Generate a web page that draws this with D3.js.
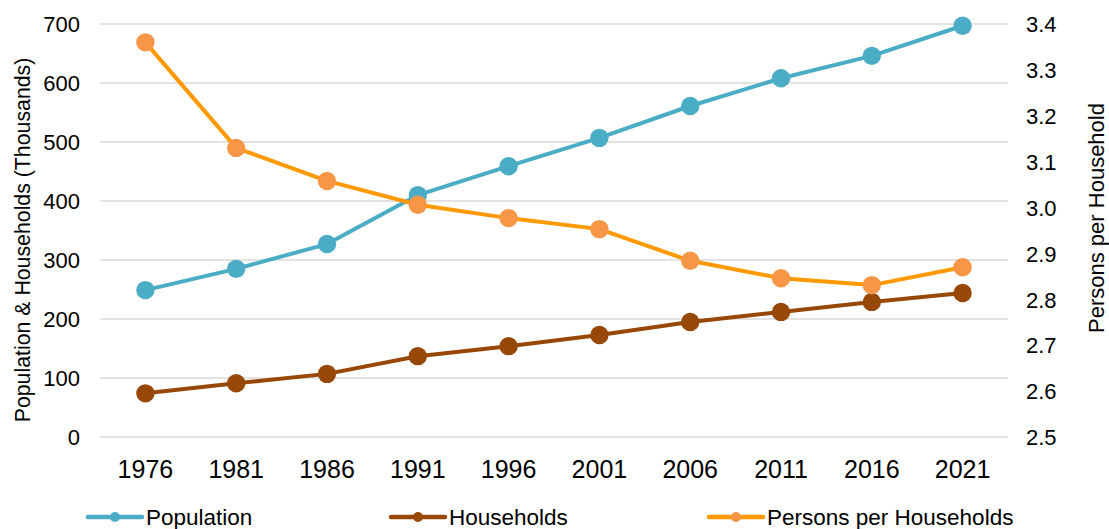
<!DOCTYPE html>
<html>
<head>
<meta charset="utf-8">
<script src="https://cdn.jsdelivr.net/npm/d3@7"></script>
<style>
  body { margin: 0; background: #fff; }
  text { font-family: "Liberation Sans", Arial, sans-serif; fill: #000; }
</style>
</head>
<body>
<div id="chart"></div>
<script>
const years = ["1976", "1981", "1986", "1991", "1996", "2001", "2006", "2011", "2016", "2021"];
const population = [249, 285, 327, 410, 459, 507, 561, 608, 646, 697];
const households = [74, 91, 107, 137, 154, 173, 195, 212, 229, 244];
const personsPerHousehold = [3.36, 3.13, 3.058, 3.006, 2.977, 2.953, 2.884, 2.846, 2.831, 2.87];
const leftTicks = [0, 100, 200, 300, 400, 500, 600, 700];
const rightTicks = [2.5, 2.6, 2.7, 2.8, 2.9, 3.0, 3.1, 3.2, 3.3, 3.4];

const W = 1109, H = 529;
const margin = { top: 24, right: 101, bottom: 92, left: 100 };
const width = W - margin.left - margin.right;
const height = H - margin.top - margin.bottom;

const svg = d3.select("#chart").append("svg")
  .attr("width", W)
  .attr("height", H);

const chart = svg.append("g")
  .attr("transform", `translate(${margin.left},${margin.top})`);

const x = d3.scaleBand().domain(years).range([0, width]);
const yL = d3.scaleLinear().domain([0, 700]).range([height, 0]);
const yR = d3.scaleLinear().domain([2.5, 3.4]).range([height, 0]);

// gridlines
chart.append("g")
  .selectAll("line")
  .data(leftTicks)
  .enter().append("line")
  .attr("x1", 0).attr("x2", width)
  .attr("y1", d => yL(d)).attr("y2", d => yL(d))
  .attr("stroke", "#d9d9d9")
  .attr("stroke-width", 1.3);

// left axis
const left = chart.append("g")
  .call(d3.axisLeft(yL).tickValues(leftTicks).tickSize(0).tickPadding(20));
left.select(".domain").remove();
left.selectAll("text").style("font-size", "22px").attr("dy", "0.35em");

// right axis
const right = chart.append("g")
  .attr("transform", `translate(${width},0)`)
  .call(d3.axisRight(yR).tickValues(rightTicks).tickSize(0).tickPadding(18).tickFormat(d3.format(".1f")));
right.select(".domain").remove();
right.selectAll("text").style("font-size", "22px").attr("dy", "0.35em");

// bottom axis
const bottom = chart.append("g")
  .attr("transform", `translate(0,${height})`)
  .call(d3.axisBottom(x).tickSize(0).tickPadding(23));
bottom.select(".domain").remove();
bottom.selectAll("text").style("font-size", "25px");

// axis titles
svg.append("text")
  .attr("transform", "rotate(-90)")
  .attr("x", -240)
  .attr("y", 30)
  .attr("text-anchor", "middle")
  .style("font-size", "21.3px")
  .text("Population & Households (Thousands)");

svg.append("text")
  .attr("transform", "rotate(-90)")
  .attr("x", -218)
  .attr("y", 1104)
  .attr("text-anchor", "middle")
  .style("font-size", "22px")
  .text("Persons per Household");

const series = [
  { name: "Population", values: population, y: yL, line: "#4bacc6", dot: "#4bacc6" },
  { name: "Households", values: households, y: yL, line: "#974706", dot: "#974706" },
  { name: "Persons per Households", values: personsPerHousehold, y: yR, line: "#ff9900", dot: "#f79646" }
];

series.forEach(s => {
  const line = d3.line()
    .x((d, i) => x(years[i]) + x.bandwidth() / 2)
    .y(d => s.y(d));

  chart.append("path")
    .datum(s.values)
    .attr("fill", "none")
    .attr("stroke", s.line)
    .attr("stroke-width", 4)
    .attr("stroke-linejoin", "round")
    .attr("d", line);

  chart.selectAll(null)
    .data(s.values)
    .enter().append("circle")
    .attr("cx", (d, i) => x(years[i]) + x.bandwidth() / 2)
    .attr("cy", d => s.y(d))
    .attr("r", 9.2)
    .attr("fill", s.dot);
});

// legend
const legendX = [88, 391, 709];
const legendLen = 54;
const legend = svg.append("g").attr("transform", "translate(0,517)");
series.forEach((s, i) => {
  const g = legend.append("g").attr("transform", `translate(${legendX[i]},0)`);
  g.append("line")
    .attr("x1", 0).attr("x2", legendLen)
    .attr("stroke", s.line)
    .attr("stroke-width", 4.5)
    .attr("stroke-linecap", "round");
  g.append("circle").attr("cx", legendLen / 2).attr("r", 5).attr("fill", s.dot);
  g.append("text")
    .attr("x", legendLen + 4)
    .attr("dy", "0.35em")
    .style("font-size", "22.5px")
    .text(s.name);
});
</script>
</body>
</html>
